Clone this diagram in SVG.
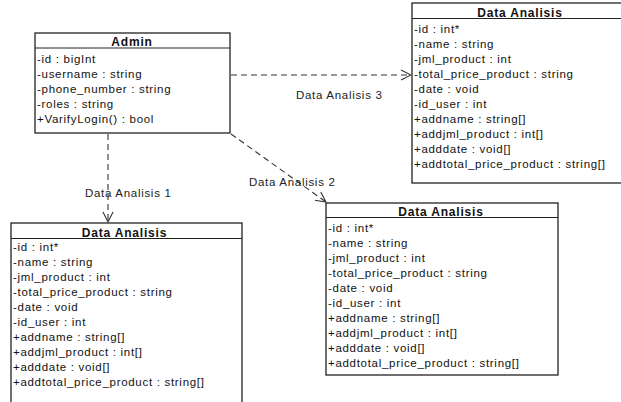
<svg xmlns="http://www.w3.org/2000/svg" width="621" height="402" viewBox="0 0 621 402">
<defs>
<style>
.box{fill:#fff;stroke:#222;stroke-width:1.3}
.sep{stroke:#222;stroke-width:1.2}
.t{font-family:"Liberation Sans",Arial,sans-serif;font-size:11.5px;letter-spacing:0.7px;fill:#111}
.h{font-family:"Liberation Sans",Arial,sans-serif;font-size:12px;font-weight:bold;letter-spacing:0.8px;fill:#111;text-anchor:middle}
.c{fill:none;stroke:#333;stroke-width:1.1;stroke-dasharray:6 4}
.lbl{font-family:"Liberation Sans",Arial,sans-serif;font-size:11.5px;letter-spacing:0.7px;fill:#222}
</style>
<marker id="open" viewBox="0 0 12 12" refX="11" refY="6" markerWidth="12" markerHeight="12" markerUnits="userSpaceOnUse" orient="auto">
<path d="M1,1 L11,6 L1,11" fill="none" stroke="#333" stroke-width="1.1"/>
</marker>
</defs>
<rect width="621" height="402" fill="#fff"/>

<g id="admin">
<rect class="box" x="35" y="33" width="195" height="100"/>
<line class="sep" x1="35" y1="48" x2="230" y2="48"/>
<text class="h" x="132" y="46">Admin</text>
<text class="t" x="37" y="62.5">-id : bigInt</text>
<text class="t" x="37" y="77.5">-username : string</text>
<text class="t" x="37" y="92.5">-phone_number : string</text>
<text class="t" x="37" y="107.5">-roles : string</text>
<text class="t" x="37" y="122.5">+VarifyLogin() : bool</text>
</g>

<g id="da-topright">
<rect class="box" x="412" y="3" width="215" height="180"/>
<line class="sep" x1="412" y1="18.5" x2="627" y2="18.5"/>
<text class="h" x="520" y="16.5">Data Analisis</text>
<text class="t" x="414" y="33">-id : int*</text>
<text class="t" x="414" y="48">-name : string</text>
<text class="t" x="414" y="63">-jml_product : int</text>
<text class="t" x="414" y="78">-total_price_product : string</text>
<text class="t" x="414" y="93">-date : void</text>
<text class="t" x="414" y="108">-id_user : int</text>
<text class="t" x="414" y="123">+addname : string[]</text>
<text class="t" x="414" y="138">+addjml_product : int[]</text>
<text class="t" x="414" y="153">+adddate : void[]</text>
<text class="t" x="414" y="168">+addtotal_price_product : string[]</text>
</g>

<g id="da-bottomleft">
<rect class="box" x="11" y="223" width="231" height="190"/>
<line class="sep" x1="11" y1="238.5" x2="242" y2="238.5"/>
<text class="h" x="124.5" y="236.5">Data Analisis</text>
<text class="t" x="13" y="251">-id : int*</text>
<text class="t" x="13" y="266">-name : string</text>
<text class="t" x="13" y="281">-jml_product : int</text>
<text class="t" x="13" y="296">-total_price_product : string</text>
<text class="t" x="13" y="311">-date : void</text>
<text class="t" x="13" y="326">-id_user : int</text>
<text class="t" x="13" y="341">+addname : string[]</text>
<text class="t" x="13" y="356">+addjml_product : int[]</text>
<text class="t" x="13" y="371">+adddate : void[]</text>
<text class="t" x="13" y="386">+addtotal_price_product : string[]</text>
</g>

<g id="da-bottommid">
<rect class="box" x="326" y="203" width="232" height="172"/>
<line class="sep" x1="326" y1="217.5" x2="558" y2="217.5"/>
<text class="h" x="441" y="215.5">Data Analisis</text>
<text class="t" x="328" y="232">-id : int*</text>
<text class="t" x="328" y="247">-name : string</text>
<text class="t" x="328" y="262">-jml_product : int</text>
<text class="t" x="328" y="277">-total_price_product : string</text>
<text class="t" x="328" y="292">-date : void</text>
<text class="t" x="328" y="307">-id_user : int</text>
<text class="t" x="328" y="322">+addname : string[]</text>
<text class="t" x="328" y="337">+addjml_product : int[]</text>
<text class="t" x="328" y="352">+adddate : void[]</text>
<text class="t" x="328" y="367">+addtotal_price_product : string[]</text>
</g>

<g id="connectors">
<line class="c" x1="108" y1="134" x2="108" y2="222" marker-end="url(#open)"/>
<line class="c" x1="231" y1="134" x2="326" y2="202" marker-end="url(#open)"/>
<line class="c" x1="231" y1="75" x2="411" y2="75" marker-end="url(#open)"/>
<text class="lbl" x="85" y="197">Data Analisis 1</text>
<text class="lbl" x="249" y="186">Data Analisis 2</text>
<text class="lbl" x="296" y="99">Data Analisis 3</text>
</g>
</svg>
